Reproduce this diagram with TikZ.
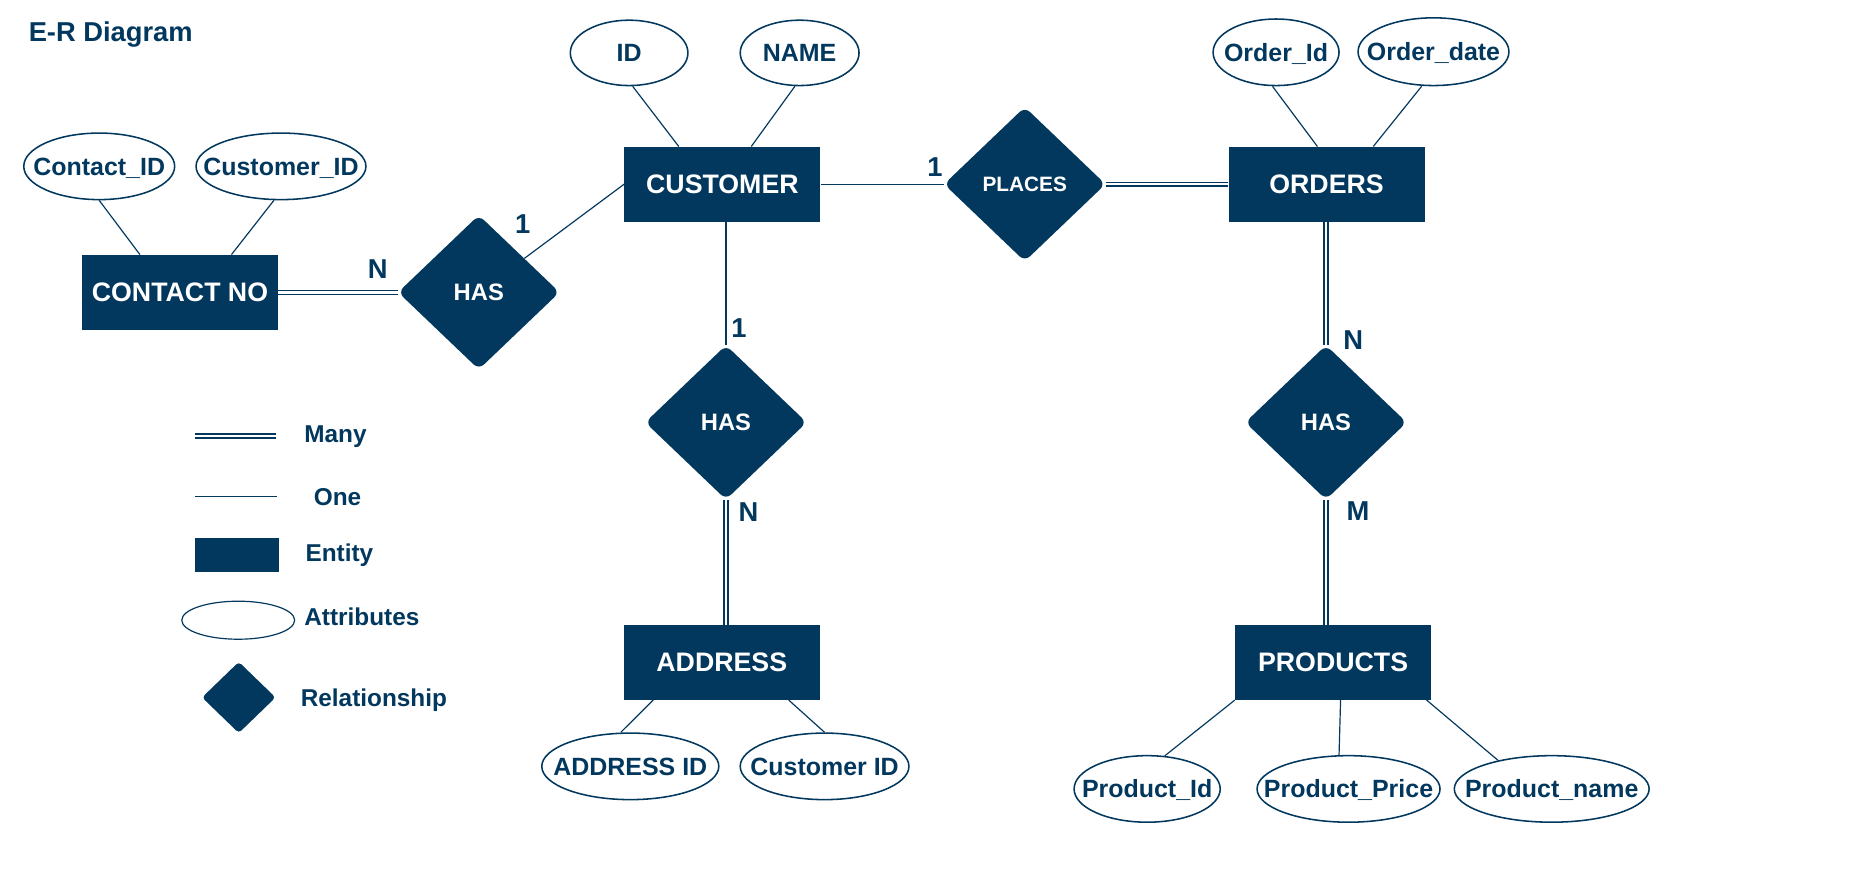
\documentclass[tikz,border=0pt]{standalone}
\usepackage{fontspec}
\setmainfont{Liberation Sans}
\usetikzlibrary{shapes.geometric,calc}
\definecolor{navy}{HTML}{03385E}
\tikzset{
 ent/.style={rectangle, fill=navy, text=white, minimum width=165pt, minimum height=63pt, inner sep=0pt, font=\fontsize{22.5}{26}\selectfont\bfseries},
 rel/.style={diamond, fill=navy, text=white, rounded corners=6pt, minimum width=136pt, minimum height=130pt, inner sep=0pt, font=\fontsize{20}{24}\selectfont\bfseries},
 attr/.style={ellipse, draw=navy, line width=1.3pt, fill=white, minimum height=56pt, inner sep=0pt},
 attrtext/.style={text=navy, font=\fontsize{21}{24}\selectfont\bfseries, inner sep=0pt, text height=15.2pt, text depth=0pt},
 card/.style={text=navy, font=\fontsize{23}{26}\selectfont\bfseries, inner sep=0pt, text height=16.5pt, text depth=0pt},
 legtext/.style={text=navy, font=\fontsize{20.5}{24}\selectfont\bfseries, anchor=west, inner sep=0pt, text height=14.8pt, text depth=0pt},
 one/.style={draw=navy, line width=1pt},
 many/.style={draw=navy, double=white, line width=1.1pt, double distance=2.2pt},
}
\begin{document}
\begin{tikzpicture}[x=1pt,y=-1pt]
\useasboundingbox (0,0) rectangle (1568,739);
% title
\node[text=navy, font=\fontsize{23}{27}\selectfont\bfseries, anchor=west, inner sep=0pt, text height=16.5pt, text depth=0pt] (title) at (24,27) {E-R Diagram};
% entities
\node[ent] (cn) at (151.5,246) {CONTACT NO};
\node[ent] (cu) at (608,155) {CUSTOMER};
\node[ent] (ords) at (1116.5,155) {ORDERS};
\node[ent] (ad) at (607.5,557.5) {ADDRESS};
\node[ent] (pr) at (1122,557.5) {PRODUCTS};
% relationships
\node[rel] (has1) at (403,246) {HAS};
\node[rel, font=\fontsize{17.5}{21}\selectfont\bfseries] (pl) at (862.5,155) {PLACES};
\node[rel] (has2) at (611,355.5) {HAS};
\node[rel] (has3) at (1116,355.5) {HAS};
% attributes
\node[attr, minimum width=127pt, label={[attrtext]center:Contact\_ID}] (cid) at (83.5,140) {};
\node[attr, minimum width=143pt, label={[attrtext]center:Customer\_ID}] (cuid) at (236.5,140) {};
\node[attr, minimum width=99pt, minimum height=55pt, label={[attrtext]center:ID}] (id) at (529.5,44.5) {};
\node[attr, minimum width=100pt, minimum height=55pt, label={[attrtext]center:NAME}] (nm) at (673,44.5) {};
\node[attr, minimum width=106pt, label={[attrtext]center:Order\_Id}] (oid) at (1074,44) {};
\node[attr, minimum width=127pt, minimum height=57pt, label={[attrtext]center:Order\_date}] (od) at (1206.5,43.5) {};
\node[attr, minimum width=149pt, label={[attrtext]center:ADDRESS ID}] (aid) at (530.5,645) {};
\node[attr, minimum width=142pt, label={[attrtext]center:Customer ID}] (acid) at (694,645) {};
\node[attr, minimum width=123pt, label={[attrtext]center:Product\_Id}] (pid) at (965.5,664) {};
\node[attr, minimum width=154pt, label={[attrtext]center:Product\_Price}] (ppr) at (1135,664) {};
\node[attr, minimum width=164pt, label={[attrtext]center:Product\_name}] (pn) at (1306,664) {};
% attribute links
\draw[one] (cid.south) -- ([xshift=49pt]cn.north west);
\draw[one] ([xshift=-6pt]cuid.south) -- ([xshift=126pt]cn.north west);
\draw[one] ([xshift=3pt]id.south) -- ([xshift=46pt]cu.north west);
\draw[one] ([xshift=-4pt]nm.south) -- ([xshift=107pt]cu.north west);
\draw[one] ([xshift=-3pt]oid.south) -- ([xshift=75pt]ords.north west);
\draw[one] ([xshift=-10pt]od.south) -- ([xshift=122pt]ords.north west);
\draw[one] ([xshift=-8pt]aid.north) -- ([xshift=25pt]ad.south west);
\draw[one] (acid.north) -- ([xshift=139pt]ad.south west);
\draw[one] (pid.62) -- (pr.south west);
\draw[one] ([xshift=-8pt]ppr.north) -- ([xshift=89pt]pr.south west);
\draw[one] (pn.152) -- ([xshift=-4pt]pr.south east);
% relationship links
\draw[many] (cn.east) -- (has1.west);
\draw[one] (has1) -- (cu.west);
\draw[one] (cu.east) -- (pl.west);
\draw[many] (pl.east) -- (ords.west);
\draw[one] (has2.north) -- (has2.north |- cu.south);
\draw[many] (has2.south) -- (has2.south |- ad.north);
\draw[many] (has3.north) -- (has3.north |- ords.south);
\draw[many] (has3.south) -- (has3.south |- pr.north);
% cardinalities
\node[card] (c1) at (318,226) {N};
\node[card] (c2) at (440,188) {1};
\node[card] (c3) at (787,140) {1};
\node[card] (c4) at (622,276) {1};
\node[card] (c5) at (630,431) {N};
\node[card] (c6) at (1139,286) {N};
\node[card] (c7) at (1143,430) {M};
% legend
\coordinate (m1) at (164,367); \coordinate (m2) at (232,367);
\draw[many] (m1) -- (m2);
\node[legtext] (lmany) at (256,365) {Many};
\coordinate (o1) at (164,418); \coordinate (o2) at (233,418);
\draw[one] (o1) -- (o2);
\node[legtext] (lone) at (264,418) {One};
\node[ent, minimum width=71pt, minimum height=28pt] (lent) at (199.5,467) {};
\node[legtext] (lentt) at (257,465) {Entity};
\node[attr, minimum width=95pt, minimum height=32pt, line width=1pt] (latt) at (200.5,522) {};
\node[legtext] (lattt) at (256,519) {Attributes};
\node[rel, minimum width=62pt, minimum height=60pt, rounded corners=3pt] (lrel) at (201,587) {};
\node[legtext] (lrelt) at (253,587) {Relationship};
\end{tikzpicture}
\end{document}
